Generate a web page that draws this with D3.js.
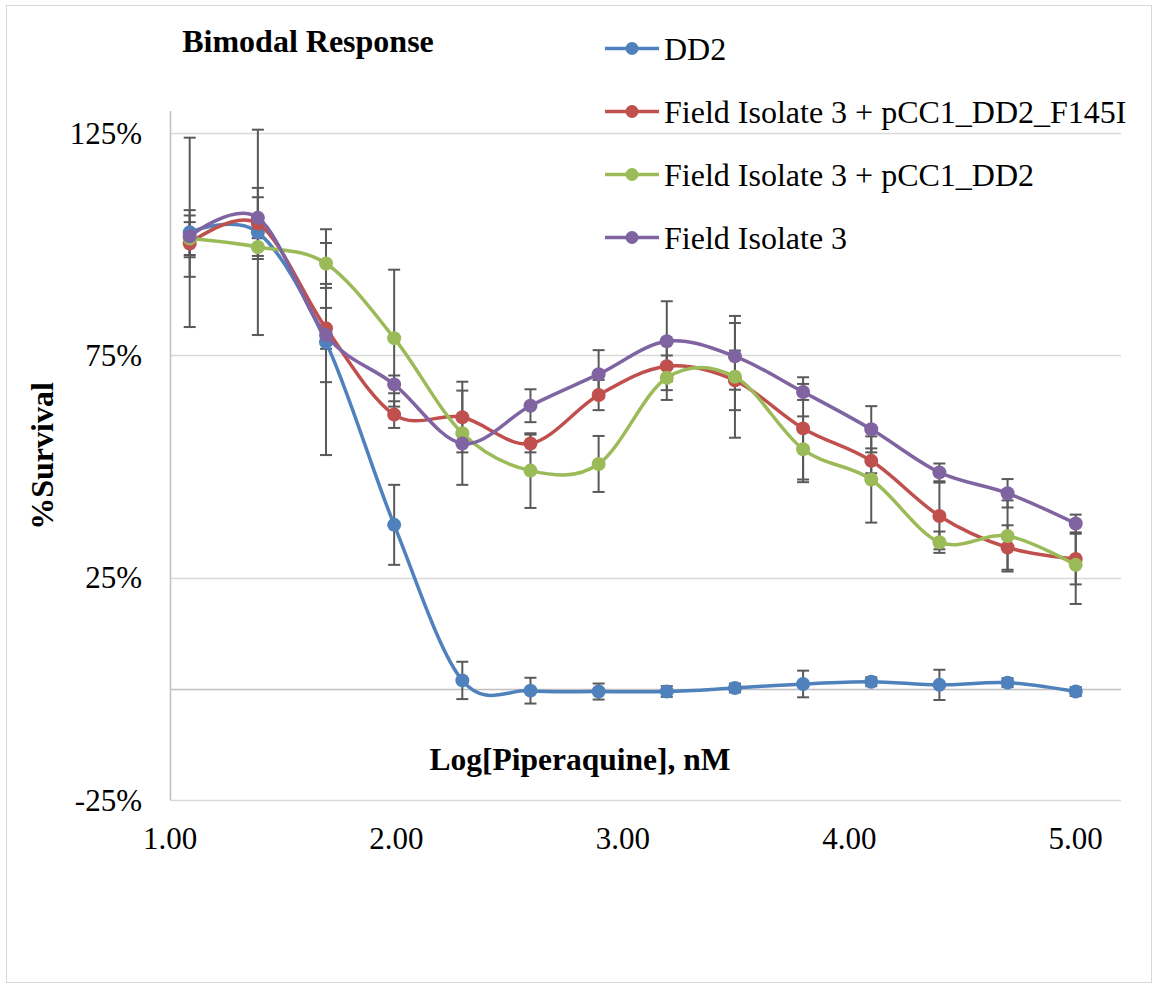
<!DOCTYPE html>
<html>
<head>
<meta charset="utf-8">
<script src="https://cdn.jsdelivr.net/npm/d3@7"></script>
<style>
  body { margin: 0; background: #fff; }
  text { font-family: "Liberation Serif", "Times New Roman", Tinos, "DejaVu Serif", serif; fill: #000; }
</style>
</head>
<body>
<div id="chart"></div>
<script>
// log10 of the piperaquine concentration (nM), two-fold dilution series
const logDose = [1.087, 1.388, 1.689, 1.990, 2.291, 2.592, 2.893, 3.194, 3.495, 3.796, 4.097, 4.398, 4.699, 5.000];

const seriesNames = ["DD2", "Field Isolate 3 + pCC1_DD2_F145I", "Field Isolate 3 + pCC1_DD2", "Field Isolate 3"];
const seriesColors = ["#4F81BD", "#C0504D", "#9BBB59", "#8064A2"];

// % survival
const dd2 = [102.7, 102.7, 78.0, 36.9, 1.9, -0.4, -0.6, -0.6, 0.2, 1.1, 1.6, 0.9, 1.4, -0.6];
const f145i = [100.2, 104.7, 81.1, 61.7, 61.1, 55.2, 66.1, 72.6, 69.4, 58.6, 51.3, 38.9, 31.8, 29.2];
const pcc1 = [101.3, 99.4, 95.7, 78.9, 57.5, 49.1, 50.6, 70.0, 70.2, 53.9, 47.1, 33.0, 34.4, 27.9];
const isolate3 = [101.8, 106.0, 79.6, 68.5, 55.2, 63.7, 70.8, 78.2, 74.8, 66.8, 58.4, 48.7, 44.0, 37.2];

// error (+/-) in %
const dd2Err = [21.3, 23.1, 25.4, 9.0, 4.2, 2.9, 1.8, 1.2, 1.0, 3.0, 1.0, 3.4, 1.0, 1.0];
const f145iErr = [7.5, 8.0, 4.6, 3.0, 6.0, 2.0, 3.4, 5.4, 6.7, 11.5, 2.8, 7.5, 5.0, 5.7];
const pcc1Err = [3.7, 2.0, 4.6, 15.4, 11.6, 8.4, 6.3, 5.0, 13.7, 7.4, 9.7, 2.4, 8.0, 8.8];
const isolate3Err = [4.7, 4.6, 10.6, 2.0, 2.0, 3.7, 5.4, 9.0, 7.5, 1.8, 5.2, 2.0, 3.2, 2.0];

const xTicks = [1, 2, 3, 4, 5];
const yTicks = [-25, 25, 75, 125];

class DoseChart {
  constructor(_series) {
    this.width = 1158;
    this.height = 988;
    this.plot = {left: 170, right: 1121, top: 111, bottom: 800};
    this.series = _series;
    this.initVis();
  }

  initVis() {
    let vis = this;

    vis.svg = d3.select("#chart").append("svg")
      .attr("width", vis.width)
      .attr("height", vis.height);

    // chart area border
    vis.svg.append("rect")
      .attr("x", 6.5).attr("y", 5.5)
      .attr("width", 1145).attr("height", 977)
      .attr("fill", "#fff")
      .attr("stroke", "#D9D9D9");

    vis.x = d3.scaleLinear().domain([1, 5.2]).range([vis.plot.left, vis.plot.right]);
    vis.y = d3.scaleLinear().domain([-25, 130]).range([vis.plot.bottom, vis.plot.top]);

    vis.renderVis();
  }

  renderVis() {
    let vis = this;

    // horizontal gridlines
    vis.svg.append("g").selectAll("line")
      .data(yTicks)
      .enter().append("line")
      .attr("x1", vis.plot.left).attr("x2", vis.plot.right)
      .attr("y1", d => Math.round(vis.y(d)) + 0.5)
      .attr("y2", d => Math.round(vis.y(d)) + 0.5)
      .attr("stroke", "#D9D9D9").attr("stroke-width", 1.5);

    // y axis line and the horizontal axis crossing at 0
    vis.svg.append("line")
      .attr("x1", vis.plot.left + 0.5).attr("x2", vis.plot.left + 0.5)
      .attr("y1", vis.plot.top).attr("y2", vis.plot.bottom)
      .attr("stroke", "#BFBFBF").attr("stroke-width", 1.5);
    vis.svg.append("line")
      .attr("x1", vis.plot.left).attr("x2", vis.plot.right)
      .attr("y1", Math.round(vis.y(0)) + 0.5).attr("y2", Math.round(vis.y(0)) + 0.5)
      .attr("stroke", "#BFBFBF").attr("stroke-width", 1.5);

    // tick labels
    vis.svg.append("g").selectAll("text")
      .data(yTicks)
      .enter().append("text")
      .attr("x", 142)
      .attr("y", d => vis.y(d) + 10.5)
      .attr("text-anchor", "end")
      .style("font-size", "31px")
      .text(d => d + "%");

    vis.svg.append("g").selectAll("text")
      .data(xTicks)
      .enter().append("text")
      .attr("x", d => vis.x(d))
      .attr("y", 849)
      .attr("text-anchor", "middle")
      .style("font-size", "31px")
      .text(d => d3.format(".2f")(d));

    // error bars under the lines
    let capW = 6;
    vis.series.forEach(s => {
      let g = vis.svg.append("g").attr("stroke", "#595959").attr("stroke-width", 2);
      s.values.forEach((v, i) => {
        let cx = vis.x(logDose[i]);
        let y0 = vis.y(v + s.err[i]);
        let y1 = vis.y(v - s.err[i]);
        g.append("line").attr("x1", cx).attr("x2", cx).attr("y1", y0).attr("y2", y1);
        g.append("line").attr("x1", cx - capW).attr("x2", cx + capW).attr("y1", y0).attr("y2", y0);
        g.append("line").attr("x1", cx - capW).attr("x2", cx + capW).attr("y1", y1).attr("y2", y1);
      });
    });

    // smoothed lines with markers
    let line = d3.line()
      .x((d, i) => vis.x(logDose[i]))
      .y(d => vis.y(d))
      .curve(d3.curveCatmullRom.alpha(0));

    vis.series.forEach(s => {
      vis.svg.append("path")
        .datum(s.values)
        .attr("d", line)
        .attr("fill", "none")
        .attr("stroke", s.color)
        .attr("stroke-width", 3.5)
        .attr("stroke-linejoin", "round");
      vis.svg.append("g").selectAll("circle")
        .data(s.values)
        .enter().append("circle")
        .attr("cx", (d, i) => vis.x(logDose[i]))
        .attr("cy", d => vis.y(d))
        .attr("r", 7)
        .attr("fill", s.color);
    });

    // legend
    let legend = vis.svg.append("g").selectAll("g")
      .data(vis.series)
      .enter().append("g")
      .attr("transform", (d, i) => `translate(0, ${48.5 + i * 63})`);
    legend.append("line")
      .attr("x1", 605).attr("x2", 659)
      .attr("stroke", d => d.color).attr("stroke-width", 3.5);
    legend.append("circle")
      .attr("cx", 632).attr("r", 6.5)
      .attr("fill", d => d.color);
    legend.append("text")
      .attr("x", 664).attr("y", 11)
      .style("font-size", "32px")
      .text(d => d.name);

    // titles
    vis.svg.append("text")
      .attr("x", 308).attr("y", 52)
      .attr("text-anchor", "middle")
      .style("font-size", "32px").style("font-weight", "bold")
      .text("Bimodal Response");

    vis.svg.append("text")
      .attr("x", 580).attr("y", 770)
      .attr("text-anchor", "middle")
      .style("font-size", "31.5px").style("font-weight", "bold")
      .text("Log[Piperaquine], nM");

    vis.svg.append("text")
      .attr("transform", "translate(53, 456) rotate(-90)")
      .attr("text-anchor", "middle")
      .style("font-size", "32px").style("font-weight", "bold")
      .text("%Survival");
  }
}

const allSeries = [
  {name: seriesNames[0], color: seriesColors[0], values: dd2, err: dd2Err},
  {name: seriesNames[1], color: seriesColors[1], values: f145i, err: f145iErr},
  {name: seriesNames[2], color: seriesColors[2], values: pcc1, err: pcc1Err},
  {name: seriesNames[3], color: seriesColors[3], values: isolate3, err: isolate3Err}
];

new DoseChart(allSeries);
</script>
</body>
</html>
